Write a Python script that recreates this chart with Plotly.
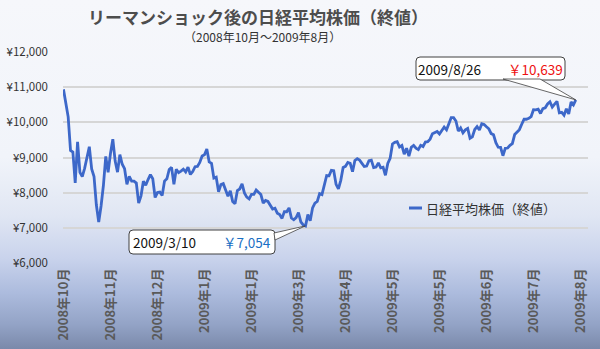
import base64
import plotly.graph_objects as go

# ---- data: Nikkei 225 closing values (Oct 2008 - Aug 2009) ----
oct08 = [10938, 10473, 10155, 9203, 9157, 8276, 9447, 8577, 8458, 8693, 9005, 9306, 8674, 8460, 7649, 7162, 7621, 8211, 9029, 8577]
nov08 = [9114, 9521, 8899, 8583, 9081, 8809, 8681, 8238, 8462, 8329, 8328, 8273, 7703, 7910, 8323, 8213, 8373, 8512]
dec08 = [8397, 7863, 8004, 8016, 7917, 8329, 8395, 8660, 8720, 8235, 8664, 8568, 8612, 8667, 8588, 8723, 8517, 8599, 8739, 8747, 8859]
jan09 = [9043, 9080, 9239, 8876, 8836, 8413, 8438, 8023, 8230, 8256, 8065, 7901, 8051, 7745, 7682, 8061, 8106, 8251, 7994]
feb09 = [7873, 7825, 7950, 7949, 8076, 8009, 7945, 7705, 7779, 7750, 7645, 7534, 7557, 7416, 7376, 7268, 7461, 7457, 7568]
mar09 = [7280, 7229, 7290, 7433, 7173, 7086, 7054, 7376, 7198, 7569, 7704, 7750, 7972, 7945, 8215, 8488, 8480, 8636, 8626, 8236, 8109]
apr09 = [8351, 8719, 8749, 8857, 8832, 8595, 8916, 8964, 8924, 8835, 8742, 8755, 8907, 8924, 8711, 8727, 8847, 8707, 8726, 8493, 8828]
may09 = [8977, 9385, 9432, 9451, 9298, 9340, 9093, 9265, 9038, 9291, 9344, 9264, 9225, 9347, 9310, 9438, 9451, 9522]
jun09 = [9677, 9704, 9741, 9668, 9768, 9865, 9787, 9991, 10135, 10135, 10039, 9752, 9840, 9703, 9786, 9826, 9549, 9590, 9796, 9877, 9783, 9958]
jul09 = [9939, 9876, 9816, 9680, 9647, 9420, 9291, 9287, 9050, 9261, 9269, 9344, 9395, 9652, 9723, 9792, 9944, 10088, 10087, 10113, 10165, 10357]
aug09 = [10352, 10375, 10252, 10388, 10412, 10524, 10585, 10435, 10517, 10597, 10268, 10284, 10204, 10383, 10238, 10581, 10497, 10639]

closes = oct08 + nov08 + dec08 + jan09 + feb09 + mar09 + apr09 + may09 + jun09 + jul09 + aug09
idx = list(range(len(closes)))

tick_labels = ["2008年10月", "2008年11月", "2008年12月", "2009年1月", "2009年1月", "2009年3月",
               "2009年4月", "2009年5月", "2009年5月", "2009年6月", "2009年7月", "2009年8月"]
tick_step = 20
y_ticks = [6000, 7000, 8000, 9000, 10000, 11000, 12000]
y_tick_text = [f"¥{v:,}" for v in y_ticks]

low_date, low_value = "2009/3/10", 7054
last_date, last_value = "2009/8/26", 10639

series_name = "日経平均株価（終値）"
title = "リーマンショック後の日経平均株価（終値）"
subtitle = "（2008年10月～2009年8月）"

# ---- layout geometry ----
W, H = 600, 349
ML, MR, MT, MB = 63, 12, 52, 86
PW, PH = W - ML - MR, H - MT - MB
XMAX = 223.2
YMIN, YMAX = 6000, 12000
FONT = "Noto Sans CJK JP"


def px(xp):
    return (xp - ML) / PW


def py(yp):
    return (MT + PH - yp) / PH


def data_px(i, v):
    return ML + i / XMAX * PW, MT + (YMAX - v) / (YMAX - YMIN) * PH


# gradient background (svg data uri)
svg = f'''<svg xmlns="http://www.w3.org/2000/svg" width="{W}" height="{H}" preserveAspectRatio="none">
<defs><linearGradient id="g" x1="0" y1="0" x2="0" y2="1">
<stop offset="0" stop-color="#f6f7fb"/>
<stop offset="0.45" stop-color="#f1f4fa"/>
<stop offset="0.62" stop-color="#e0e6f3"/>
<stop offset="0.74" stop-color="#c9d3ec"/>
<stop offset="0.84" stop-color="#acbbdd"/>
<stop offset="0.93" stop-color="#93a3c6"/>
<stop offset="1" stop-color="#7a89aa"/>
</linearGradient></defs>
<rect x="0" y="0" width="{W}" height="{H}" fill="url(#g)"/></svg>'''
bg_uri = "data:image/svg+xml;base64," + base64.b64encode(svg.encode()).decode()

fig = go.Figure()
fig.add_trace(go.Scatter(x=idx, y=closes, mode="lines", name=series_name,
                         line=dict(color="#3d68c9", width=2.8), showlegend=False,
                         hoverinfo="skip"))

fig.add_layout_image(dict(source=bg_uri, xref="paper", yref="paper",
                          x=px(0), y=py(0), sizex=W / PW, sizey=H / PH,
                          sizing="stretch", layer="below", xanchor="left", yanchor="top"))

shapes = []
annotations = []


def text_at(text, x, y, size, color, xanchor="center", weight="normal"):
    annotations.append(dict(text=text, x=px(x), y=py(y), xref="paper", yref="paper",
                            xanchor=xanchor, yanchor="middle", showarrow=False,
                            font=dict(family=FONT, size=size, color=color, weight=weight)))


# title and subtitle
text_at(title, 258, 16, 17, "#4d4d4d", weight="bold")
text_at(subtitle, 262, 36, 12, "#333333")

# legend (drawn manually)
shapes.append(dict(type="line", xref="paper", yref="paper", x0=px(409), x1=px(422), y0=py(208), y1=py(208),
                   line=dict(color="#3d68c9", width=3)))
text_at(series_name, 424, 208, 13, "#333333", xanchor="left")


def rounded_box(x0, y0, x1, y1, r=4):
    X0, X1 = px(x0), px(x1)
    Y0, Y1 = py(y0), py(y1)
    rx, ry = r / PW, r / PH
    return (f"M {X0+rx},{Y0} L {X1-rx},{Y0} Q {X1},{Y0} {X1},{Y0-ry} L {X1},{Y1+ry} Q {X1},{Y1} {X1-rx},{Y1} "
            f"L {X0+rx},{Y1} Q {X0},{Y1} {X0},{Y1+ry} L {X0},{Y0-ry} Q {X0},{Y0} {X0+rx},{Y0} Z")


def callout(box, base_a, base_b, tip, date, value, vcolor):
    shapes.append(dict(type="path", xref="paper", yref="paper", path=rounded_box(*box),
                       fillcolor="white", line=dict(color="#404040", width=1)))
    path = f"M {px(base_a[0])},{py(base_a[1])} L {px(tip[0])},{py(tip[1])} L {px(base_b[0])},{py(base_b[1])} Z"
    shapes.append(dict(type="path", xref="paper", yref="paper", path=path,
                       fillcolor="white", line=dict(color="#404040", width=0.8)))
    cx = (box[0] + box[2]) / 2
    cy = (box[1] + box[3]) / 2
    text_at(f"{date}　　<span style='color:{vcolor}'>￥{value:,}</span>", cx, cy, 13.5, "#111111")


i_low = closes.index(low_value)
i_last = len(closes) - 1
tip_low = data_px(i_low, low_value)
tip_last = data_px(i_last, last_value)
callout((129, 230, 275, 254), (274, 233), (275, 240), tip_low, low_date, low_value, "#1a6fc4")
callout((416, 57, 565, 80), (503, 79), (540, 79), tip_last, last_date, last_value, "#ee1111")

fig.update_layout(
    width=W, height=H,
    margin=dict(l=ML, r=MR, t=MT, b=MB, autoexpand=False),
    paper_bgcolor="rgba(0,0,0,0)", plot_bgcolor="rgba(0,0,0,0)",
    shapes=shapes, annotations=annotations,
    xaxis=dict(range=[-0.2, XMAX], tickvals=[i * tick_step for i in range(len(tick_labels))],
               ticktext=tick_labels, tickangle=-90, showgrid=False, zeroline=False, showline=False,
               ticks="", ticklabelstandoff=2, automargin=False,
               tickfont=dict(family=FONT, size=13, color="#5a5a5a", weight="bold")),
    yaxis=dict(range=[YMIN, YMAX], tickvals=y_ticks, ticktext=y_tick_text,
               showgrid=True, gridcolor="#d6d6d6", gridwidth=2, zeroline=False, showline=False,
               ticks="", ticklabelstandoff=14, automargin=False,
               tickfont=dict(family=FONT, size=11.5, color="#333333")),
    showlegend=False,
)

fig.write_html("out.html")
